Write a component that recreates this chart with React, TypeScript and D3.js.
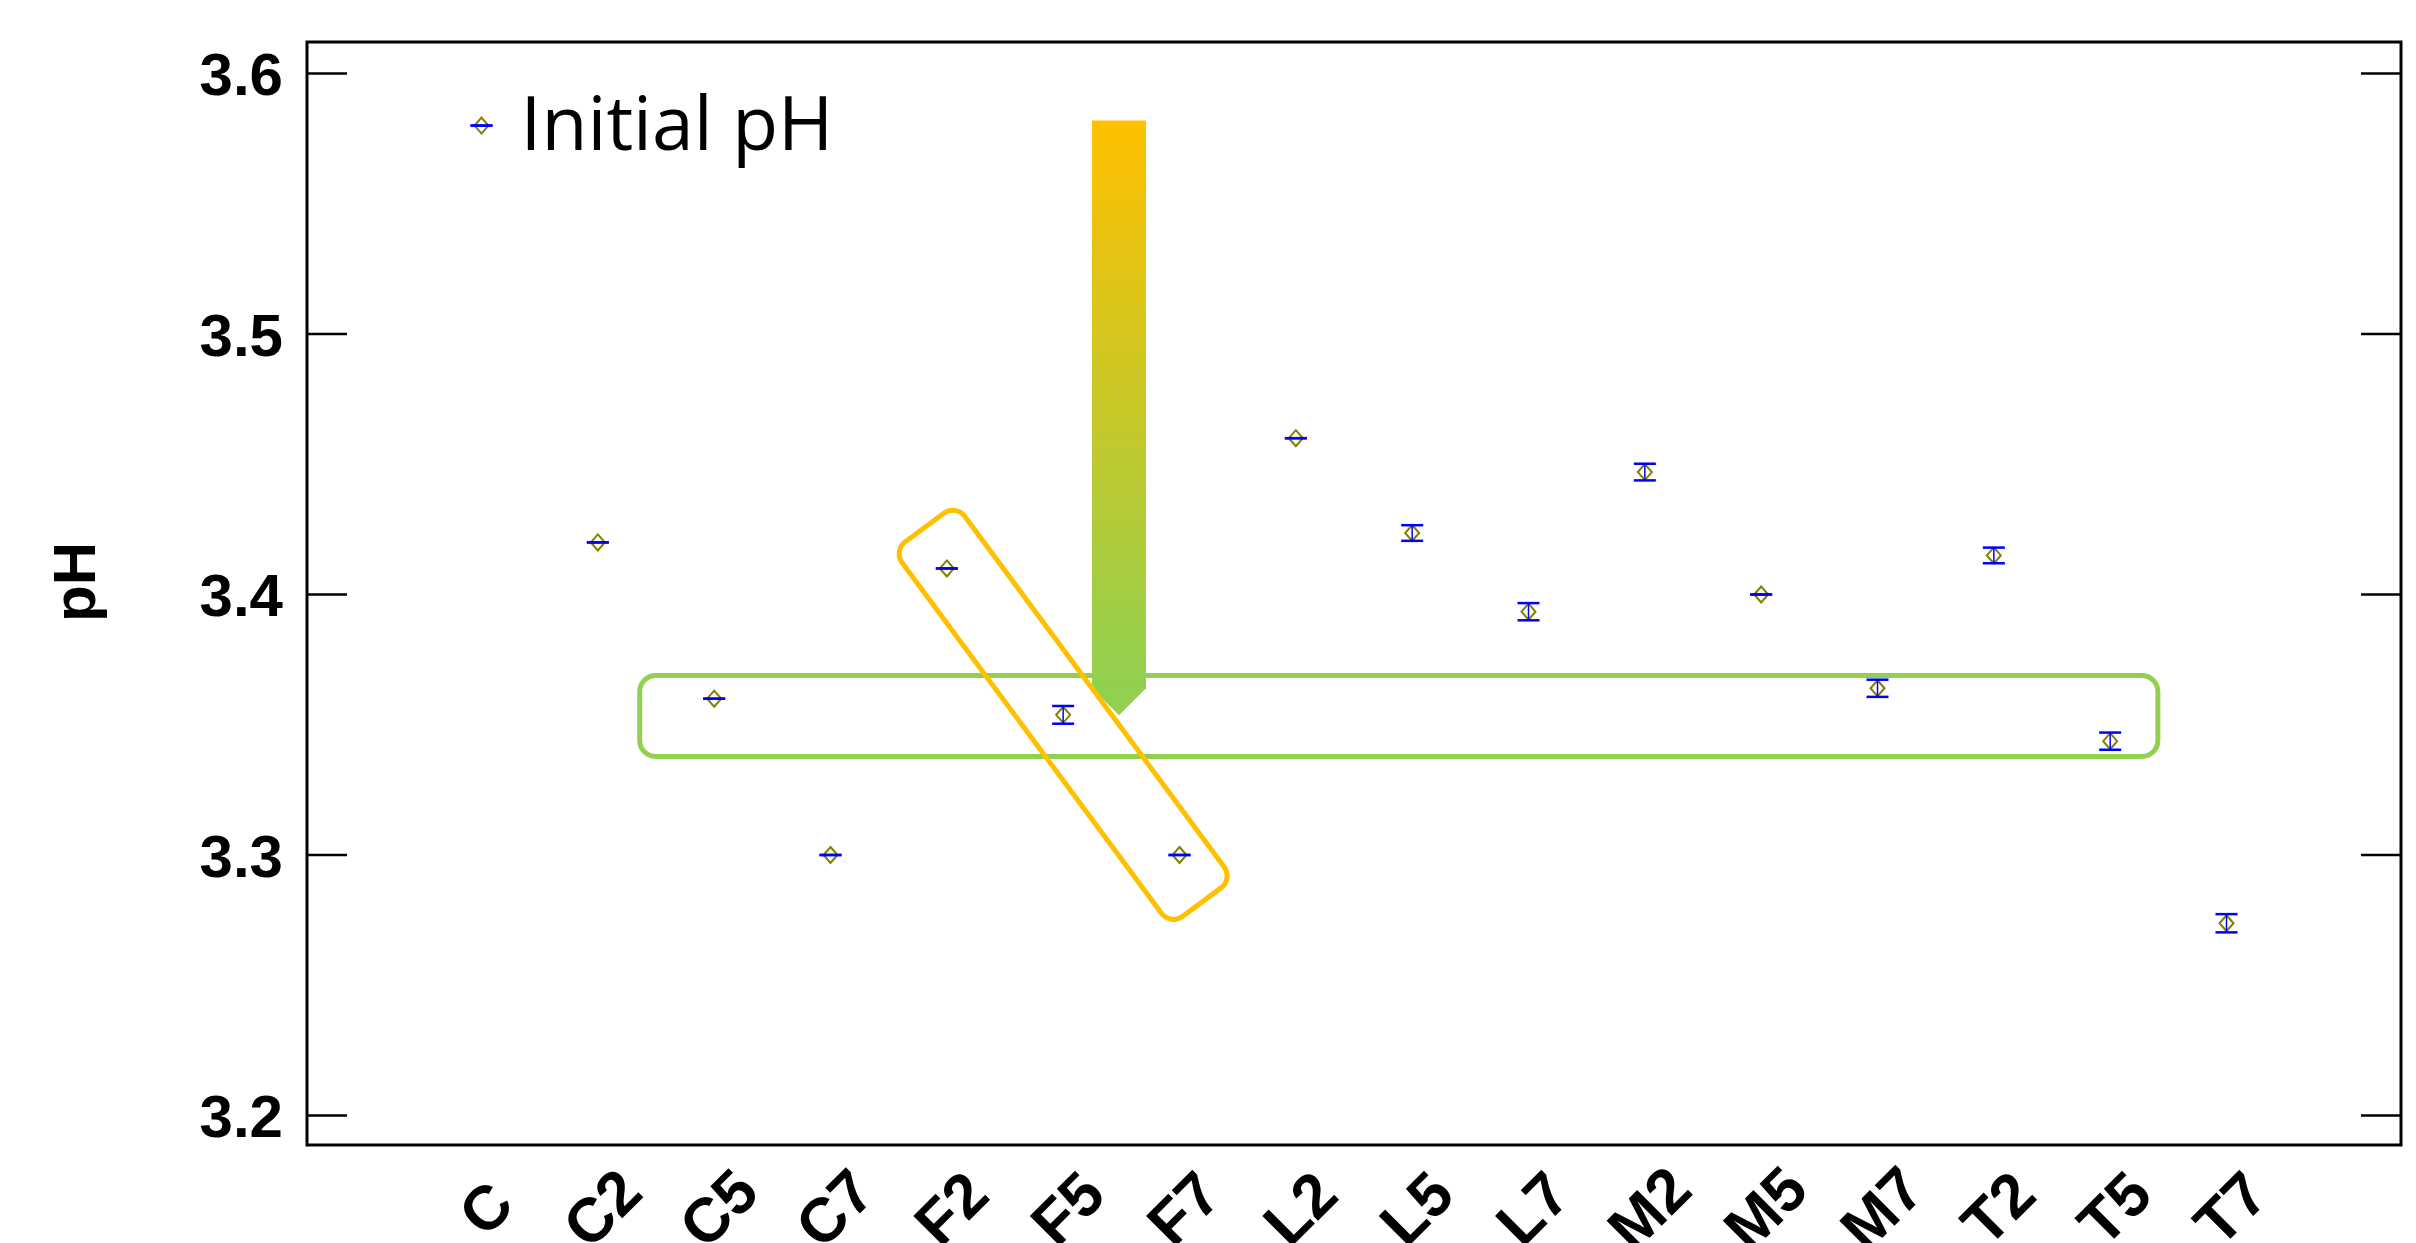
import { useEffect, useRef } from "react";
import * as d3 from "d3";

// pH per sample (C = initial pH)
const samples = ["C", "C2", "C5", "C7", "F2", "F5", "F7", "L2", "L5", "L7", "M2", "M5", "M7", "T2", "T5", "T7"];
const phMean = [3.58, 3.42, 3.36, 3.3, 3.41, 3.3538, 3.3, 3.46, 3.4236, 3.3934, 3.447, 3.4, 3.364, 3.415, 3.3437, 3.2738];
const phErr = [0, 0, 0, 0, 0, 0.0034, 0, 0, 0.003, 0.0033, 0.0032, 0, 0.0033, 0.003, 0.0033, 0.0035];
const yTicks = [3.2, 3.3, 3.4, 3.5, 3.6];

// annotation extents in data units (x given as sample index)
const greenBox = { x0: 1.36, x1: 14.41, y0: 3.3689, y1: 3.3378 };
const arrowPos = { xi: 5.48, top: 3.582, tip: 3.3536 };
const orangeCenter = { sample: "F5", value: 3.3538 };

export default function App() {
    const svgRef = useRef<SVGSVGElement | null>(null);

    useEffect(() => {
        if (!svgRef.current) return;
        const svg = d3.select(svgRef.current);
        svg.selectAll("*").remove();

        const left = 307, right = 2401, top = 42, bottom = 1145;
        const font = "'Liberation Sans', Arial, sans-serif";

        const x = d3.scalePoint<string>().domain(samples).range([left, right]).padding(1.5);
        const xi = (i: number) => (x(samples[0]) as number) + i * x.step();
        const y = d3.scaleLinear().domain([3.2, 3.6]).range([1115.5, 73.5]);

        // gradient for the arrow
        const grad = svg.append("defs").append("linearGradient")
            .attr("id", "arrowGrad")
            .attr("x1", 0).attr("y1", 0).attr("x2", 0).attr("y2", 1);
        grad.append("stop").attr("offset", "0%").attr("stop-color", "#FFC000");
        grad.append("stop").attr("offset", "95%").attr("stop-color", "#92D050");

        // frame
        svg.append("rect")
            .attr("x", left).attr("y", top)
            .attr("width", right - left).attr("height", bottom - top)
            .attr("fill", "none").attr("stroke", "#000").attr("stroke-width", 3);

        // inward ticks on both sides
        svg.selectAll(".tl").data(yTicks).enter().append("line")
            .attr("x1", left).attr("x2", left + 40)
            .attr("y1", (d) => y(d)).attr("y2", (d) => y(d))
            .attr("stroke", "#000").attr("stroke-width", 2.5);
        svg.selectAll(".tr").data(yTicks).enter().append("line")
            .attr("x1", right - 40).attr("x2", right)
            .attr("y1", (d) => y(d)).attr("y2", (d) => y(d))
            .attr("stroke", "#000").attr("stroke-width", 2.5);

        // y tick labels
        svg.selectAll(".yl").data(yTicks).enter().append("text")
            .attr("x", left - 24).attr("y", (d) => y(d))
            .attr("dy", "0.36em")
            .attr("text-anchor", "end")
            .attr("font-family", font).attr("font-weight", "bold").attr("font-size", 60)
            .text((d) => d3.format(".1f")(d));

        // y title
        svg.append("text")
            .attr("transform", `translate(95,582) rotate(-90)`)
            .attr("text-anchor", "middle")
            .attr("font-family", font).attr("font-weight", "bold").attr("font-size", 60)
            .text("pH");

        // x labels
        svg.selectAll(".xl").data(samples).enter().append("text")
            .attr("transform", (d) => `translate(${(x(d) as number) + 4},1208) rotate(-45)`)
            .attr("dy", "0.35em")
            .attr("text-anchor", "middle")
            .attr("font-family", font).attr("font-weight", "bold").attr("font-size", 62)
            .text((d) => d);

        // green box
        svg.append("rect")
            .attr("x", xi(greenBox.x0)).attr("y", y(greenBox.y0))
            .attr("width", xi(greenBox.x1) - xi(greenBox.x0))
            .attr("height", y(greenBox.y1) - y(greenBox.y0))
            .attr("rx", 16)
            .attr("fill", "none").attr("stroke", "#92D050").attr("stroke-width", 5);

        // gradient arrow
        const ax = xi(arrowPos.xi), hw = 27;
        const aTop = y(arrowPos.top), aTip = y(arrowPos.tip);
        svg.append("path")
            .attr("d", `M${ax - hw},${aTop} L${ax + hw},${aTop} L${ax + hw},${aTip - 27} L${ax},${aTip} L${ax - hw},${aTip - 27} Z`)
            .attr("fill", "url(#arrowGrad)");

        // orange tilted box
        svg.append("rect")
            .attr("transform", `translate(${x(orangeCenter.sample)},${y(orangeCenter.value)}) rotate(53.5)`)
            .attr("x", -233).attr("y", -39)
            .attr("width", 466).attr("height", 78)
            .attr("rx", 15)
            .attr("fill", "none").attr("stroke", "#FFC000").attr("stroke-width", 5);

        const pts = samples.map((s, i) => ({ s, m: phMean[i], e: phErr[i] }));

        // diamonds
        svg.selectAll(".pt").data(pts).enter().append("path")
            .attr("d", (d) => {
                const cx = x(d.s) as number, cy = y(d.m);
                return `M${cx},${cy - 8} L${cx + 7},${cy} L${cx},${cy + 8} L${cx - 7},${cy} Z`;
            })
            .attr("fill", "none").attr("stroke", "#808000").attr("stroke-width", 2);

        // error bars
        const eb = svg.selectAll(".eb").data(pts).enter().append("g")
            .attr("stroke", "#0000FF");
        eb.append("line")
            .attr("x1", (d) => x(d.s) as number).attr("x2", (d) => x(d.s) as number)
            .attr("y1", (d) => y(d.m - d.e)).attr("y2", (d) => y(d.m + d.e))
            .attr("stroke-width", 1.5);
        eb.append("line")
            .attr("x1", (d) => (x(d.s) as number) - 11).attr("x2", (d) => (x(d.s) as number) + 11)
            .attr("y1", (d) => y(d.m + d.e)).attr("y2", (d) => y(d.m + d.e))
            .attr("stroke-width", 2.5);
        eb.append("line")
            .attr("x1", (d) => (x(d.s) as number) - 11).attr("x2", (d) => (x(d.s) as number) + 11)
            .attr("y1", (d) => y(d.m - d.e)).attr("y2", (d) => y(d.m - d.e))
            .attr("stroke-width", 2.5);

        // label for the initial point
        svg.append("text")
            .attr("x", (x("C") as number) + 39).attr("y", y(phMean[0]) + 24)
            .attr("font-family", "'Open Sans', Lato, sans-serif").attr("font-size", 75)
            .text("Initial pH");
    }, []);

    return (
        <svg
            ref={svgRef}
            width={2416}
            height={1243}
            style={{ position: "absolute", left: 0, top: 0, background: "#fff" }}
        />
    );
}
